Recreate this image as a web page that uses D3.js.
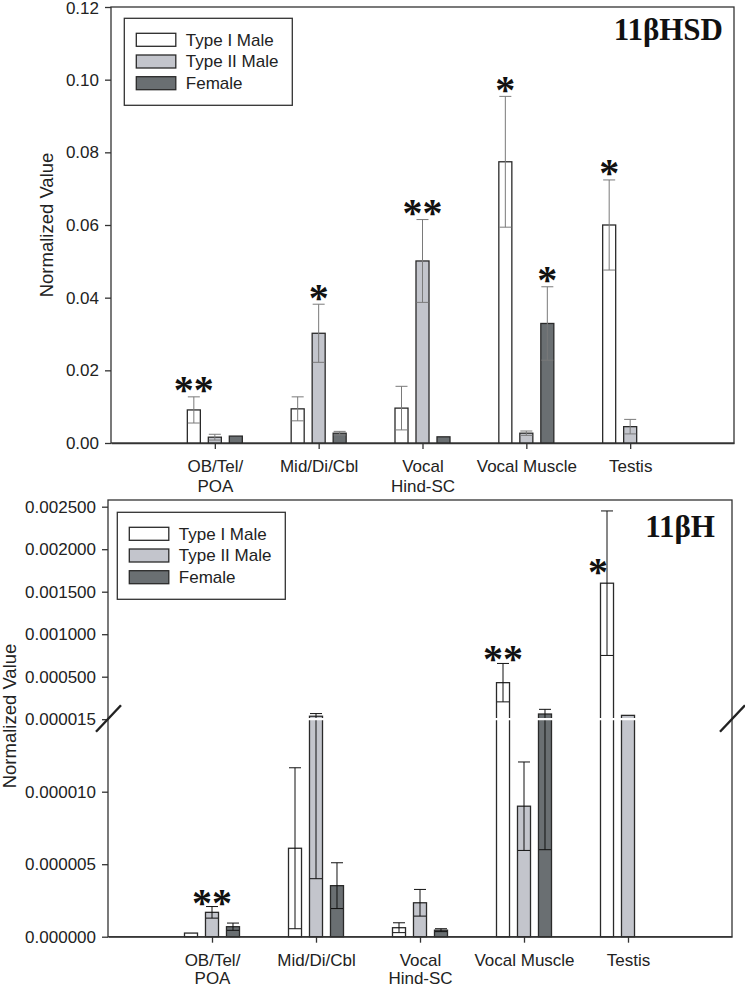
<!DOCTYPE html>
<html><head><meta charset="utf-8">
<script src="https://cdn.jsdelivr.net/npm/d3@7"></script>
<style>html,body{margin:0;padding:0;background:#fff;}svg{display:block;}</style>
</head><body>
<svg id="chart" width="745" height="988"></svg>
<script>
// ---------- data ----------
const categories = ["OB/Tel/\nPOA", "Mid/Di/Cbl", "Vocal\nHind-SC", "Vocal Muscle", "Testis"];
const seriesNames = ["Type I Male", "Type II Male", "Female"];

// 11βHSD panel (means and SE)
const hsdTypeI      = [0.0091, 0.0094, 0.0096, 0.0774, 0.0600];
const hsdTypeIErr   = [0.0036, 0.0033, 0.0060, 0.0180, 0.0124];
const hsdTypeII     = [0.0016, 0.0302, 0.0501, 0.0027, 0.0045];
const hsdTypeIIErr  = [0.0008, 0.0080, 0.0114, 0.0006, 0.0020];
const hsdFemale     = [0.0019, 0.0027, 0.0017, 0.0329, null];
const hsdFemaleErr  = [0, 0.0005, 0, 0.0101, null];
const hsdTicks      = [0, 0.02, 0.04, 0.06, 0.08, 0.10, 0.12];
const hsdStars = [ {cat: 0, s: 0, label: "**"}, {cat: 1, s: 1, label: "*"}, {cat: 2, s: 1, label: "**"},
                   {cat: 3, s: 0, label: "*"}, {cat: 3, s: 2, label: "*"}, {cat: 4, s: 0, label: "*"} ];

// 11βH panel (broken axis)
const hTypeI      = [0.00000025, 0.0000061, 0.00000062, 0.00043, 0.0016];
const hTypeIErr   = [0, 0.00000555, 0.00000034, 0.000226, 0.00085];
const hTypeII     = [0.00000168, 0.000035, 0.00000234, 0.0000090, 0.000045];
const hTypeIIErr  = [0.0000004, 0.000031, 0.00000092, 0.00000305, 0];
const hFemale     = [0.00000069, 0.00000352, 0.00000045, 0.000061, null];
const hFemaleErr  = [0.00000025, 0.00000158, 0.0000001, 0.000055, null];
const hBreak      = 0.000015;
const hLowTicks   = [0, 0.000005, 0.000010, 0.000015];
const hHighTicks  = [0.0005, 0.0010, 0.0015, 0.0020, 0.0025];
const hStars = [ {cat: 0, s: 1, label: "**"}, {cat: 3, s: 0, label: "**"}, {cat: 4, s: 0, label: "*", side: true} ];

const fills = ["#ffffff", "#c3c5cc", "#6a6f72"];
// ---------- drawing ----------
const svg = d3.select("#chart");
const FONT = "'Liberation Sans', Arial, sans-serif";
const SERIF = "'Liberation Serif', 'Times New Roman', serif";

function seriesData(means, errs) {
  return means.map((m, i) => ({cat: i, mean: m, err: errs[i]}));
}

function drawPanel(cfg) {
  const g = svg.append("g");
  const x = d3.scalePoint().domain(d3.range(categories.length)).range([cfg.left, cfg.right]).padding(1);
  const xs = d3.scaleBand().domain(d3.range(3)).range([-27.5, 27.5]).paddingInner(0.38);
  const yv = cfg.yv;

  // frame
  g.append("rect").attr("x", cfg.left).attr("y", cfg.top).attr("width", cfg.right - cfg.left)
    .attr("height", cfg.bottom - cfg.top).attr("fill", "none").attr("stroke", "#333").attr("stroke-width", 1.3);

  // bars
  cfg.series.forEach((ser, si) => {
    const data = ser.filter(d => d.mean != null);
    g.selectAll(null).data(data).enter().append("rect")
      .attr("x", d => x(d.cat) + xs(si))
      .attr("width", xs.bandwidth())
      .attr("y", d => yv(d.mean))
      .attr("height", d => cfg.bottom - yv(d.mean))
      .attr("fill", fills[si]).attr("stroke", "#2a2a2a").attr("stroke-width", 1.3);
  });
  // error bars
  cfg.series.forEach((ser, si) => {
    const data = ser.filter(d => d.mean != null && d.err > 0);
    const eg = g.selectAll(null).data(data).enter().append("g")
      .attr("stroke", cfg.errColor).attr("stroke-width", 1);
    const cx = d => x(d.cat) + xs(si) + xs.bandwidth() / 2;
    const cw = xs.bandwidth() / 2 - 0.5;
    eg.append("line").attr("x1", cx).attr("x2", cx)
      .attr("y1", d => yv(Math.max(0, d.mean - d.err))).attr("y2", d => yv(d.mean + d.err));
    eg.append("line").attr("x1", d => cx(d) - cw).attr("x2", d => cx(d) + cw)
      .attr("y1", d => yv(d.mean + d.err)).attr("y2", d => yv(d.mean + d.err));
    eg.append("line").attr("x1", d => cx(d) - cw).attr("x2", d => cx(d) + cw)
      .attr("y1", d => yv(Math.max(0, d.mean - d.err))).attr("y2", d => yv(Math.max(0, d.mean - d.err)));
  });

  if (cfg.after) cfg.after(g, x, xs);

  // stars
  cfg.stars.forEach(st => {
    const d = cfg.series[st.s][st.cat];
    const cx = x(st.cat) + xs(st.s) + xs.bandwidth() / 2;
    let cy, tx = cx;
    if (st.side) { cy = yv(d.mean) - 17; tx = cx - 9; }
    else { cy = yv(d.mean + d.err) - cfg.starGap; }
    g.append("text").attr("x", tx).attr("y", cy + 19).attr("text-anchor", "middle")
      .attr("font-family", SERIF).attr("font-weight", "bold").attr("font-size", 40)
      .attr("fill", "#111").text(st.label);
  });

  // x axis
  const xa = d3.axisBottom(x).tickSize(6).tickSizeOuter(0).tickFormat("");
  const xg = g.append("g").attr("transform", `translate(0,${cfg.bottom})`).call(xa);
  xg.select(".domain").attr("stroke", "#333").attr("stroke-width", 1.3);
  xg.selectAll(".tick line").attr("stroke", "#333").attr("stroke-width", 1.3);
  xg.selectAll(".tick").each(function(i) {
    const lines = categories[i].split("\n");
    const t = d3.select(this).append("text").attr("text-anchor", "middle")
      .attr("font-family", FONT).attr("font-size", 17).attr("fill", "#222");
    lines.forEach((ln, k) => t.append("tspan").attr("x", 0).attr("y", cfg.xLabelOffset + k * cfg.lineGap).text(ln));
  });

  // legend
  const lg = g.append("g").attr("transform", `translate(${cfg.legend[0]},${cfg.legend[1]})`);
  lg.append("rect").attr("width", 168).attr("height", 87).attr("fill", "#fff").attr("stroke", "#333").attr("stroke-width", 1.3);
  seriesNames.forEach((nm, i) => {
    lg.append("rect").attr("x", 12).attr("y", 15 + i * 21.7).attr("width", 39.5).attr("height", 13)
      .attr("fill", fills[i]).attr("stroke", "#2a2a2a").attr("stroke-width", 1.3);
    lg.append("text").attr("x", 61.5).attr("y", 27.3 + i * 21.7).attr("font-family", FONT)
      .attr("font-size", 17).attr("fill", "#222").text(nm);
  });

  // title
  g.append("text").attr("x", cfg.title[1]).attr("y", cfg.title[2]).attr("text-anchor", "end")
    .attr("font-family", SERIF).attr("font-weight", "bold").attr("font-size", 31).attr("fill", "#111")
    .text(cfg.title[0]);

  // y label
  g.append("text").attr("transform", `translate(${cfg.ylab[0]},${cfg.ylab[1]}) rotate(-90)`)
    .attr("text-anchor", "middle").attr("font-family", FONT).attr("font-size", 18.5).attr("fill", "#222")
    .text("Normalized Value");
  return g;
}

function styleY(ag) {
  ag.selectAll(".tick line").attr("stroke", "#333").attr("stroke-width", 1.3);
  ag.selectAll(".tick text").attr("font-family", FONT).attr("font-size", 17).attr("fill", "#222").attr("dx", "-3");
  ag.select(".domain").remove();
}

// ----- top panel -----
const T = {left: 111, right: 734, top: 7, bottom: 443};
const yTop = d3.scaleLinear().domain([0, 0.12]).range([T.bottom, T.top]);
const gTop = drawPanel({
  ...T, yv: yTop, errColor: "#7a7a7a", starGap: 12.5,
  series: [seriesData(hsdTypeI, hsdTypeIErr), seriesData(hsdTypeII, hsdTypeIIErr), seriesData(hsdFemale, hsdFemaleErr)],
  stars: hsdStars, xLabelOffset: 29, lineGap: 20, legend: [124.3, 18.3], title: ["11βHSD", 723, 40], ylab: [53, 225]
});
const yaTop = gTop.append("g").attr("transform", `translate(${T.left},0)`)
  .call(d3.axisLeft(yTop).tickValues(hsdTicks).tickFormat(d3.format(".2f")).tickSize(6));
styleY(yaTop);
yaTop.selectAll(".tick text").filter(d => d === 0.12).attr("dy", "0.40em");

// ----- bottom panel -----
const B = {left: 108, right: 732, top: 500, bottom: 936.7};
const breakY = 719.2;
const yLow = d3.scaleLinear().domain([0, hBreak]).range([B.bottom, breakY]);
const yHigh = d3.scaleLinear().domain([0, 0.0025]).range([breakY, 506.7]);
const yB = v => v <= hBreak ? yLow(v) : yHigh(v);
const gBot = drawPanel({
  ...B, yv: yB, errColor: "#111", starGap: 10,
  series: [seriesData(hTypeI, hTypeIErr), seriesData(hTypeII, hTypeIIErr), seriesData(hFemale, hFemaleErr)],
  stars: hStars, xLabelOffset: 29.5, lineGap: 17.5, legend: [117.3, 512.3], title: ["11βH", 715, 537], ylab: [15.5, 716],
  after: (g) => {
    g.append("line").attr("x1", B.left + 1).attr("x2", B.right - 1).attr("y1", breakY).attr("y2", breakY)
      .attr("stroke", "#fff").attr("stroke-width", 2.2);
  }
});
const yaLow = gBot.append("g").attr("transform", `translate(${B.left},0)`)
  .call(d3.axisLeft(yLow).tickValues(hLowTicks).tickFormat(d3.format(".6f")).tickSize(6));
styleY(yaLow);
const yaHigh = gBot.append("g").attr("transform", `translate(${B.left},0)`)
  .call(d3.axisLeft(yHigh).tickValues(hHighTicks).tickFormat(d3.format(".6f")).tickSize(6));
styleY(yaHigh);
// break marks
[B.left, B.right].forEach(bx => {
  gBot.append("line").attr("x1", bx - 12).attr("y1", breakY + 12.5).attr("x2", bx + 13).attr("y2", breakY - 14)
    .attr("stroke", "#222").attr("stroke-width", 2.4);
});
</script>
</body></html>
